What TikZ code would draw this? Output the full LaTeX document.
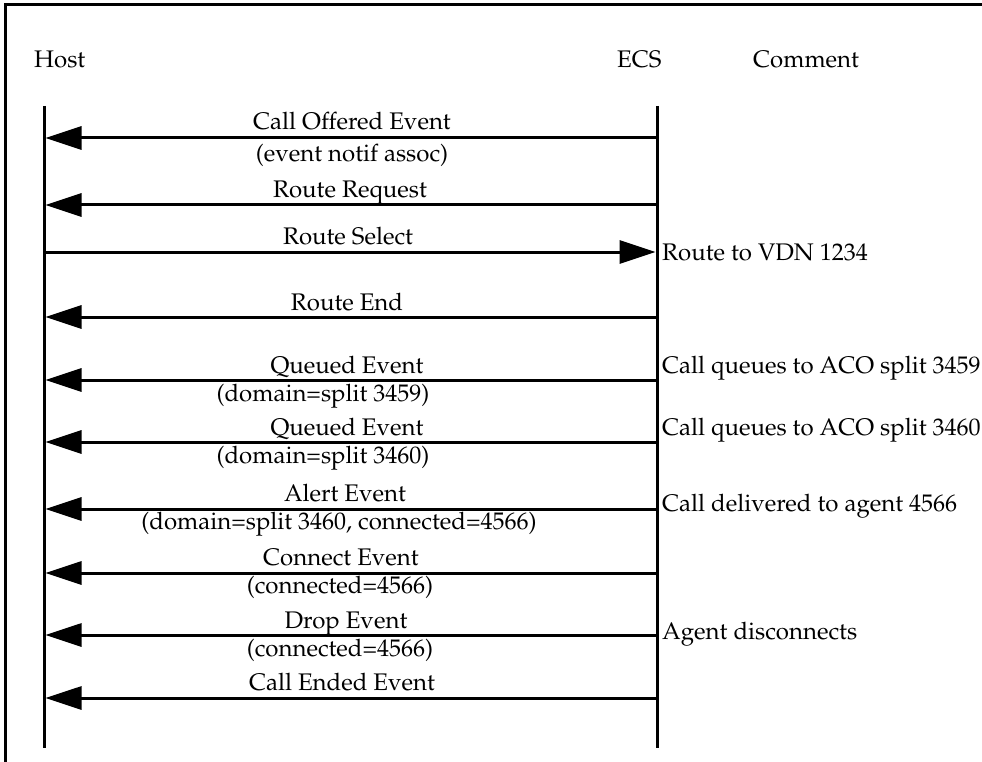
\documentclass[tikz,border=0pt]{standalone}
\usepackage[T1]{fontenc}
\usepackage{mathpazo}
\usetikzlibrary{arrows.meta}
\tikzset{
  frameline/.style={line width=3pt, line cap=rect},
  lifeline/.style={line width=3pt},
  msg/.style={line width=3pt, -{Triangle[length=36pt,width=23pt]}},
  lbl/.style={anchor=base, inner sep=0pt, font=\fontsize{24}{28}\selectfont},
  cmt/.style={anchor=base west, inner sep=0pt, font=\fontsize{24}{28}\selectfont},
}
\begin{document}
\begin{tikzpicture}[x=1pt,y=-1pt]
\useasboundingbox (0,0) rectangle (982,762);
% frame
\coordinate (fr0) at (5,762);
\coordinate (fr1) at (5,5);
\coordinate (fr2) at (985,5);
\draw[frameline] (fr0) -- (fr1) -- (fr2);
% headers
\node[cmt] (host) at (34,68) {Host};
\node[cmt] (ecs) at (617,68) {ECS};
\node[cmt] (comment) at (753,68) {Comment};
% lifelines
\coordinate (htop) at (44,106);
\coordinate (hbot) at (44,748);
\coordinate (etop) at (657,106);
\coordinate (ebot) at (657,748);
\draw[lifeline] (htop) -- (hbot);
\draw[lifeline] (etop) -- (ebot);
% message anchor points
\foreach \n/\y in {1/138,2/205,3/252,4/317,5/380,6/442,7/509,8/573,9/635,10/698}{
  \coordinate (h\n) at (45.5,\y);
  \coordinate (e\n) at (655.5,\y);
}
% messages
\draw[msg] (e1) -- (h1);
\node[lbl] (m1) at (352,130) {Call Offered Event};
\node[lbl] (m1b) at (352,162) {(event notif assoc)};

\draw[msg] (e2) -- (h2);
\node[lbl] (m2) at (350,197) {Route Request};

\draw[msg] (h3) -- (e3);
\node[lbl] (m3) at (348,244) {Route Select};
\node[cmt] (c3) at (662,260) {Route to VDN 1234};

\draw[msg] (e4) -- (h4);
\node[lbl] (m4) at (347,310) {Route End};

\draw[msg] (e5) -- (h5);
\node[lbl] (m5) at (347,373) {Queued Event};
\node[lbl] (m5b) at (323,401) {(domain=split 3459)};
\node[cmt] (c5) at (662,373) {Call queues to ACO split 3459};

\draw[msg] (e6) -- (h6);
\node[lbl] (m6) at (347,435) {Queued Event};
\node[lbl] (m6b) at (323,463) {(domain=split 3460)};
\node[cmt] (c6) at (662,435) {Call queues to ACO split 3460};

\draw[msg] (e7) -- (h7);
\node[lbl] (m7) at (345,501) {Alert Event};
\node[lbl] (m7b) at (339,529) {(domain=split 3460, connected=4566)};
\node[cmt] (c7) at (662,511) {Call delivered to agent 4566};

\draw[msg] (e8) -- (h8);
\node[lbl] (m8) at (341,565) {Connect Event};
\node[lbl] (m8b) at (340,593) {(connected=4566)};

\draw[msg] (e9) -- (h9);
\node[lbl] (m9) at (346,628) {Drop Event};
\node[lbl] (m9b) at (340,656) {(connected=4566)};
\node[cmt] (c9) at (662,639) {Agent disconnects};

\draw[msg] (e10) -- (h10);
\node[lbl] (m10) at (342,690) {Call Ended Event};
\end{tikzpicture}
\end{document}
